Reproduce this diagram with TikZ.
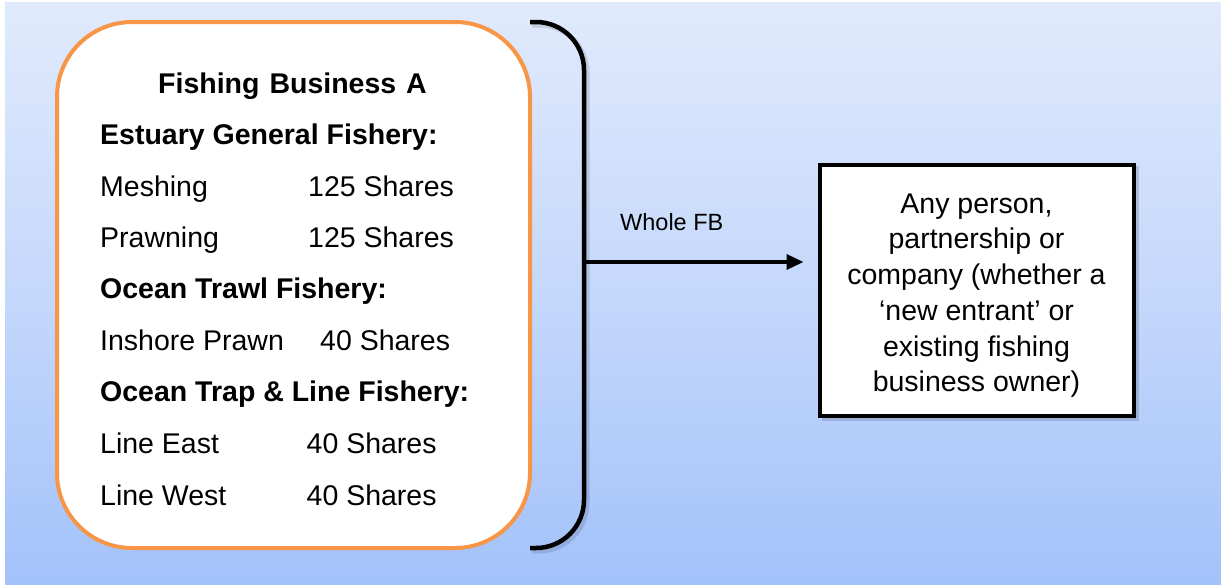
\documentclass[tikz,border=0pt]{standalone}
\usepackage{fontspec}
\setmainfont{Liberation Sans}
\usetikzlibrary{arrows.meta}
\definecolor{bgtop}{HTML}{E0EAFC}
\definecolor{bgbot}{HTML}{A3C2FA}
\definecolor{fborange}{HTML}{F79646}
\tikzset{
  bodytxt/.style={anchor=base west, inner sep=0pt, font=\fontsize{28.5}{35.7}\selectfont},
  headtxt/.style={bodytxt, font=\fontsize{28.5}{35.7}\selectfont\bfseries},
  fbbox/.style={draw=fborange, line width=4pt, fill=white, rounded corners=75pt, minimum width=473pt, minimum height=526pt, inner sep=0pt},
  destbox/.style={draw=black, line width=4pt, fill=white, minimum width=314pt, minimum height=251pt, inner sep=0pt},
  bracketline/.style={draw=black, line width=4.5pt, rounded corners=48pt},
  shadowline/.style={draw=black, opacity=0.12, line width=5pt},
  conn/.style={line width=3.5pt, -{Triangle[length=17pt,width=15pt]}},
}
\begin{document}
\begin{tikzpicture}[x=1pt,y=-1pt]
\useasboundingbox (0,0) rectangle (1221,584);
% background
\shade[top color=bgtop, bottom color=bgbot, middle color=bgbot!45!bgtop] (5,2) rectangle (1221,584);
% left rounded box
\node[fbbox] (fb) at (293.5,285) {};
% text inside
\node[headtxt] (t0) at (158,93) {Fishing\hspace{0.35em}Business\hspace{0.35em}A};
\node[headtxt] (t1) at (100,144.5) {Estuary General Fishery:};
\node[bodytxt] (t2a) at (100,196.5) {Meshing};
\node[bodytxt] (t2b) at (308,196.5) {125 Shares};
\node[bodytxt] (t3a) at (100,247.5) {Prawning};
\node[bodytxt] (t3b) at (308,247.5) {125 Shares};
\node[headtxt] (t4) at (100,298.5) {Ocean Trawl Fishery:};
\node[bodytxt] (t5a) at (100,350.5) {Inshore Prawn};
\node[bodytxt] (t5b) at (320,350.5) {40 Shares};
\node[headtxt] (t6) at (100,401.5) {Ocean Trap \& Line Fishery:};
\node[bodytxt] (t7a) at (100,453) {Line East};
\node[bodytxt] (t7b) at (306.5,453) {40 Shares};
\node[bodytxt] (t8a) at (100,505) {Line West};
\node[bodytxt] (t8b) at (306.5,505) {40 Shares};
% bracket
\draw[shadowline, rounded corners=48pt] (532,25) -- (587,25) -- (587,551) -- (532,551);
\draw[bracketline] (530,22) -- (584,22) -- (584,548) -- (530,548);
\coordinate (brk) at (584,262);
% destination box
\fill[black, opacity=0.15] (822,166) rectangle (1139,421);
\node[destbox] (dest) at (976.5,290.5) {};
\node[anchor=base, inner sep=0pt, align=center, font=\fontsize{28.5}{35.7}\selectfont] (desttxt) at (976.5,391.7)
  {Any person,\\partnership or\\company (whether a\\‘new entrant’ or\\existing fishing\\business owner)};
% arrow
\draw[conn, shorten >=14pt] (brk) -- (brk -| dest.west);
\node[anchor=base west, inner sep=0pt, font=\fontsize{23.5}{28}\selectfont] (lbl) at (620,230) {Whole FB};
\end{tikzpicture}
\end{document}
